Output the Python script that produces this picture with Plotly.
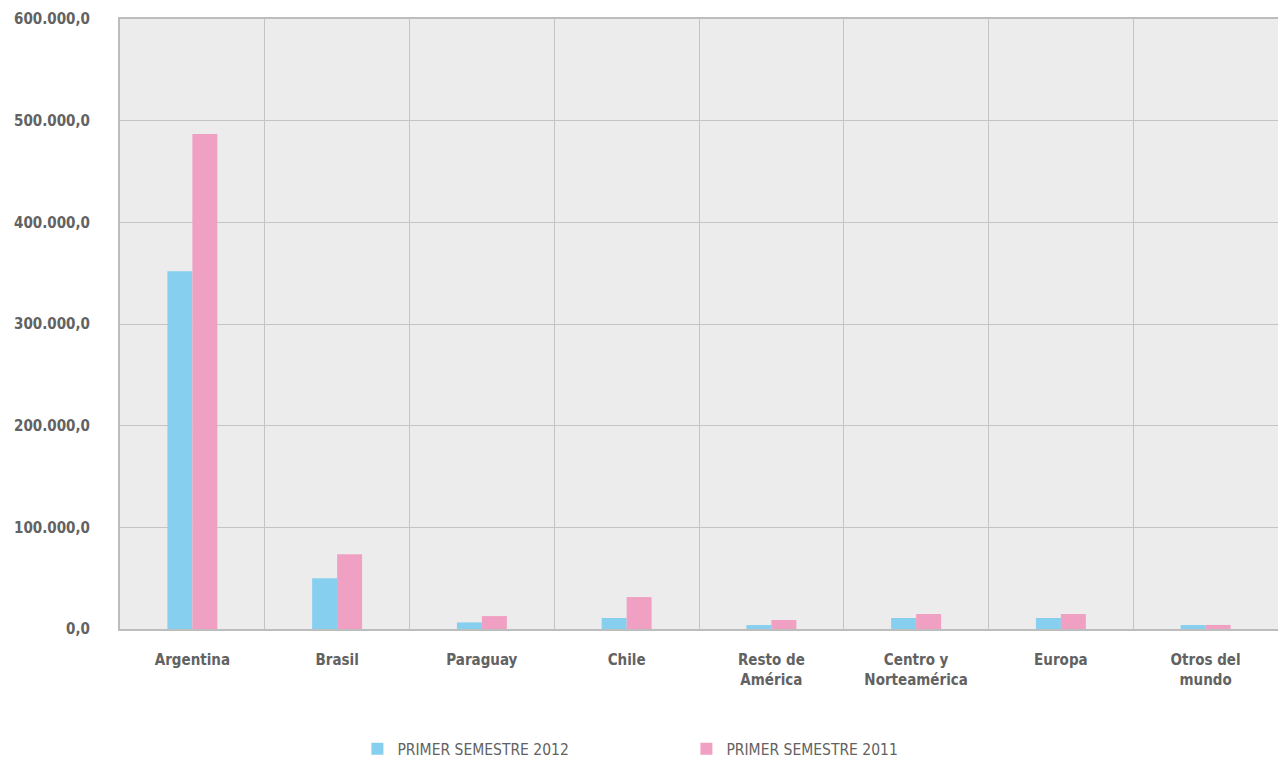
import plotly.graph_objects as go

categories = ["Argentina", "Brasil", "Paraguay", "Chile", "Resto de<br>América",
              "Centro y<br>Norteamérica", "Europa", "Otros del<br>mundo"]
values_2012 = [352000, 50000, 6500, 10800, 3900, 10800, 10800, 3900]
values_2011 = [487000, 73500, 12700, 31400, 8800, 14700, 14700, 4000]
series_names = ["PRIMER SEMESTRE 2012", "PRIMER SEMESTRE 2011"]
y_ticks = [0, 100000, 200000, 300000, 400000, 500000, 600000]

FONT = "DejaVu Sans Condensed, Liberation Sans, sans-serif"
GREY = "#626262"

fig = go.Figure()
fig.add_trace(go.Bar(x=categories, y=values_2012, name=series_names[0],
                     marker=dict(color="#87CFEF", line=dict(width=0))))
fig.add_trace(go.Bar(x=categories, y=values_2011, name=series_names[1],
                     marker=dict(color="#F0A0C2", line=dict(width=0))))

fig.update_layout(
    width=1278, height=759,
    margin=dict(l=120, r=0, t=19, b=130, autoexpand=False),
    paper_bgcolor="white",
    plot_bgcolor="#ECECEC",
    separators=",.",
    barmode="group",
    bargap=0.655,
    bargroupgap=0,
    font=dict(family=FONT, color=GREY, size=16),
    showlegend=True,
    legend=dict(orientation="h", x=0.205, xanchor="left", y=-0.197, yanchor="middle",
                entrywidth=284, entrywidthmode="pixels",
                font=dict(family=FONT, size=15.5, color=GREY),
                bgcolor="rgba(0,0,0,0)"),
    xaxis=dict(type="category", tickson="boundaries", showgrid=True,
               gridcolor="#C4C4C4", gridwidth=1, ticks="",
               showline=True, linecolor="#BDBDBD", linewidth=2, mirror=True,
               ticklabelstandoff=16, automargin=False,
               tickfont=dict(family=FONT, size=15, color=GREY, weight="bold")),
    yaxis=dict(range=[0, 600000], tickvals=y_ticks, tickformat=",.1f",
               showgrid=True, gridcolor="#C4C4C4", gridwidth=1,
               zeroline=False, ticks="", automargin=False,
               showline=True, linecolor="#BDBDBD", linewidth=2, mirror=True,
               ticklabelstandoff=25,
               tickfont=dict(family=FONT, size=15, color=GREY, weight="bold")),
)

fig.write_html("out.html", config={"displayModeBar": False},
               post_script="document.body.style.margin='0';document.body.style.overflow='hidden';")
